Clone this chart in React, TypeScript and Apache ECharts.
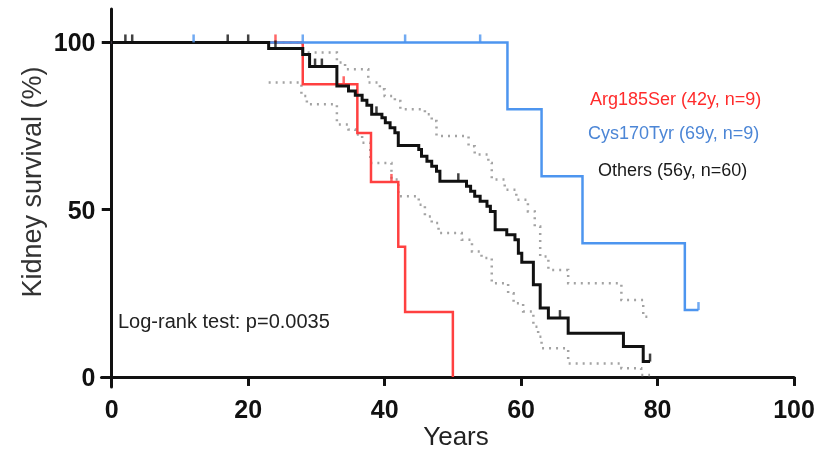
import React, { useEffect, useRef } from "react";
import * as echarts from "echarts";

const xTicks = [0, 20, 40, 60, 80, 100];
const yTicks = [0, 50, 100];

// Arg185Ser (red)
const redTimes = [0, 28, 36, 38, 42, 43, 50];
const redSurv = [100, 87.5, 72.9, 58.3, 38.9, 19.4, 0];
const redCensorTimes = [24, 34, 41];
const redCensorSurv = [100, 87.5, 58.3];

// Cys170Tyr (blue)
const blueTimes = [0, 58, 63, 69, 84, 86];
const blueSurv = [100, 80, 60, 40, 20, 20];
const blueCensorTimes = [12, 28, 43, 54, 86];
const blueCensorSurv = [100, 100, 100, 100, 20];

// Others (black)
const blackTimes = [0, 23, 28, 29, 33, 34.7, 35.7, 36.7, 37.4, 38.1, 39.6, 40.1, 40.8, 41.5, 42, 45, 45.4, 46.2, 46.9, 47.6, 48.1, 52, 52.6, 53.2, 54, 55, 55.5, 56.2, 57.9, 59.1, 59.6, 60.1, 61.8, 62.8, 64, 66.9, 75, 77.9, 78.9];
const blackSurv = [100, 98.2, 96.4, 92.8, 87, 85.5, 84.2, 82.7, 81.2, 78.5, 77.5, 76, 74.5, 73, 69.2, 68, 66, 64.5, 63, 61.5, 58.5, 57, 55.5, 54, 52.5, 51, 49.5, 44, 42.5, 41, 37, 34.3, 27.6, 20.6, 17.6, 13.1, 9.1, 4.6, 4.6];
const blackCensorTimes = [2, 3, 17, 20, 24, 29.8, 30.8, 38.8, 50.8, 65.7, 78.9];
const blackCensorSurv = [100, 100, 100, 100, 98.2, 92.8, 92.8, 78.5, 58.5, 17.6, 4.6];

// 95% CI for Others (grey dotted)
const upperTimes = [23, 28, 33, 34.2, 37.6, 39.3, 40, 41.5, 42.3, 45.9, 46.9, 47.6, 52.3, 53.2, 55.2, 55.7, 57.6, 59.3, 61, 62, 62.8, 64, 66.9, 74.7, 77.9, 78.9];
const upperSurv = [100, 97, 94, 92, 88, 86, 84, 82.5, 80, 78.5, 76.5, 72, 69, 66.5, 64, 59, 56, 53, 49.5, 45, 36, 32, 28, 23, 18, 18];
const lowerTimes = [23, 27.8, 28.6, 33, 34.7, 35.7, 36.7, 37.9, 41, 42, 45, 45.9, 46.9, 47.9, 51.3, 52.8, 54.2, 55.7, 58.1, 58.9, 60.3, 61.8, 62.5, 63, 66.9, 74.7, 77.6, 78.9];
const lowerSurv = [88, 84, 81.5, 75.5, 74, 72.5, 70, 64, 59, 54, 51.5, 48, 46, 43, 41, 37.5, 35.6, 28, 25, 22, 19.6, 15, 12, 8.6, 4, 2.6, 0.6, 0.6];

const legendLabels = ["Arg185Ser (42y, n=9)", "Cys170Tyr (69y, n=9)", "Others (56y, n=60)"];
const testLabel = "Log-rank test: p=0.0035";

const pairs = (t: number[], s: number[]) => t.map((v, i) => [v, s[i]]);

const FONT = "'Liberation Sans', Arial, Helvetica, sans-serif";
const RED = "#ff4040";
const BLUE = "#4d95ef";
const BLACK = "#111111";
const GREY = "#a3a3a3";

export default function App() {
  const ref = useRef<HTMLDivElement>(null);
  useEffect(() => {
    const chart = echarts.init(ref.current!, null, { renderer: "svg" });
    const stepLine = (name: string, data: number[][], color: string, width: number, type: any = "solid", z = 2) => ({
      name,
      type: "line",
      step: "end",
      data,
      symbol: "none",
      silent: true,
      z,
      lineStyle: { color, width, type, cap: "butt", join: "miter" },
    });
    const censor = (name: string, data: number[][], color: string, z = 6) => ({
      name,
      type: "scatter",
      data,
      symbol: "rect",
      symbolSize: [2.5, 8],
      symbolOffset: [0, -4],
      silent: true,
      z,
      itemStyle: { color },
    });
    chart.setOption({
      animation: false,
      grid: { left: 101.5, right: 39, top: 9, bottom: 67, containLabel: false },
      xAxis: {
        type: "value",
        min: -1.5,
        max: 100,
        axisLine: { onZero: true, lineStyle: { color: BLACK, width: 3 } },
        axisTick: { customValues: xTicks, length: 9, lineStyle: { color: BLACK, width: 3 } },
        axisLabel: { customValues: xTicks, fontSize: 25, fontWeight: "bold", color: BLACK, margin: 9, fontFamily: FONT },
        splitLine: { show: false },
      },
      yAxis: {
        type: "value",
        min: -3,
        max: 110,
        axisLine: { onZero: true, lineStyle: { color: BLACK, width: 3 } },
        axisTick: { customValues: yTicks, length: 10, lineStyle: { color: BLACK, width: 3 } },
        axisLabel: { customValues: yTicks, fontSize: 25, fontWeight: "bold", color: BLACK, margin: 6, fontFamily: FONT },
        splitLine: { show: false },
      },
      series: [
        stepLine("upper", pairs(upperTimes, upperSurv), GREY, 2.5, [2, 5], 1),
        stepLine("lower", pairs(lowerTimes, lowerSurv), GREY, 2.5, [2, 5], 1),
        stepLine("Arg185Ser", pairs(redTimes, redSurv), RED, 2.5, "solid", 2),
        censor("Arg185Ser censored", pairs(redCensorTimes, redCensorSurv), RED),
        stepLine("Cys170Tyr", pairs(blueTimes, blueSurv), BLUE, 2.5, "solid", 3),
        censor("Cys170Tyr censored", pairs(blueCensorTimes, blueCensorSurv), BLUE),
        stepLine("Others", pairs(blackTimes, blackSurv), BLACK, 3, "solid", 4),
        censor("Others censored", pairs(blackCensorTimes, blackCensorSurv), BLACK),
      ],
      graphic: [
        {
          type: "text", x: 590, y: 99,
          style: { text: legendLabels[0], fill: "#ff2b2b", font: `18px ${FONT}`, textAlign: "left", textVerticalAlign: "middle" },
        },
        {
          type: "text", x: 588, y: 133,
          style: { text: legendLabels[1], fill: "#4c86d6", font: `18px ${FONT}`, textAlign: "left", textVerticalAlign: "middle" },
        },
        {
          type: "text", x: 598, y: 170,
          style: { text: legendLabels[2], fill: "#1a1a1a", font: `18px ${FONT}`, textAlign: "left", textVerticalAlign: "middle" },
        },
        {
          type: "text", x: 118, y: 321,
          style: { text: testLabel, fill: "#222", font: `20px ${FONT}`, textAlign: "left", textVerticalAlign: "middle" },
        },
        {
          type: "text", x: 456, y: 436,
          style: { text: "Years", fill: "#222", font: `26px ${FONT}`, textAlign: "center", textVerticalAlign: "middle" },
        },
        {
          type: "text", x: 32, y: 182, rotation: Math.PI / 2,
          style: { text: "Kidney survival (%)", fill: "#333", font: `27px ${FONT}`, textAlign: "center", textVerticalAlign: "middle" },
        },
      ],
    });
    return () => chart.dispose();
  }, []);
  return <div ref={ref} style={{ position: "fixed", left: 0, top: 0, width: 833, height: 454 }} />;
}
